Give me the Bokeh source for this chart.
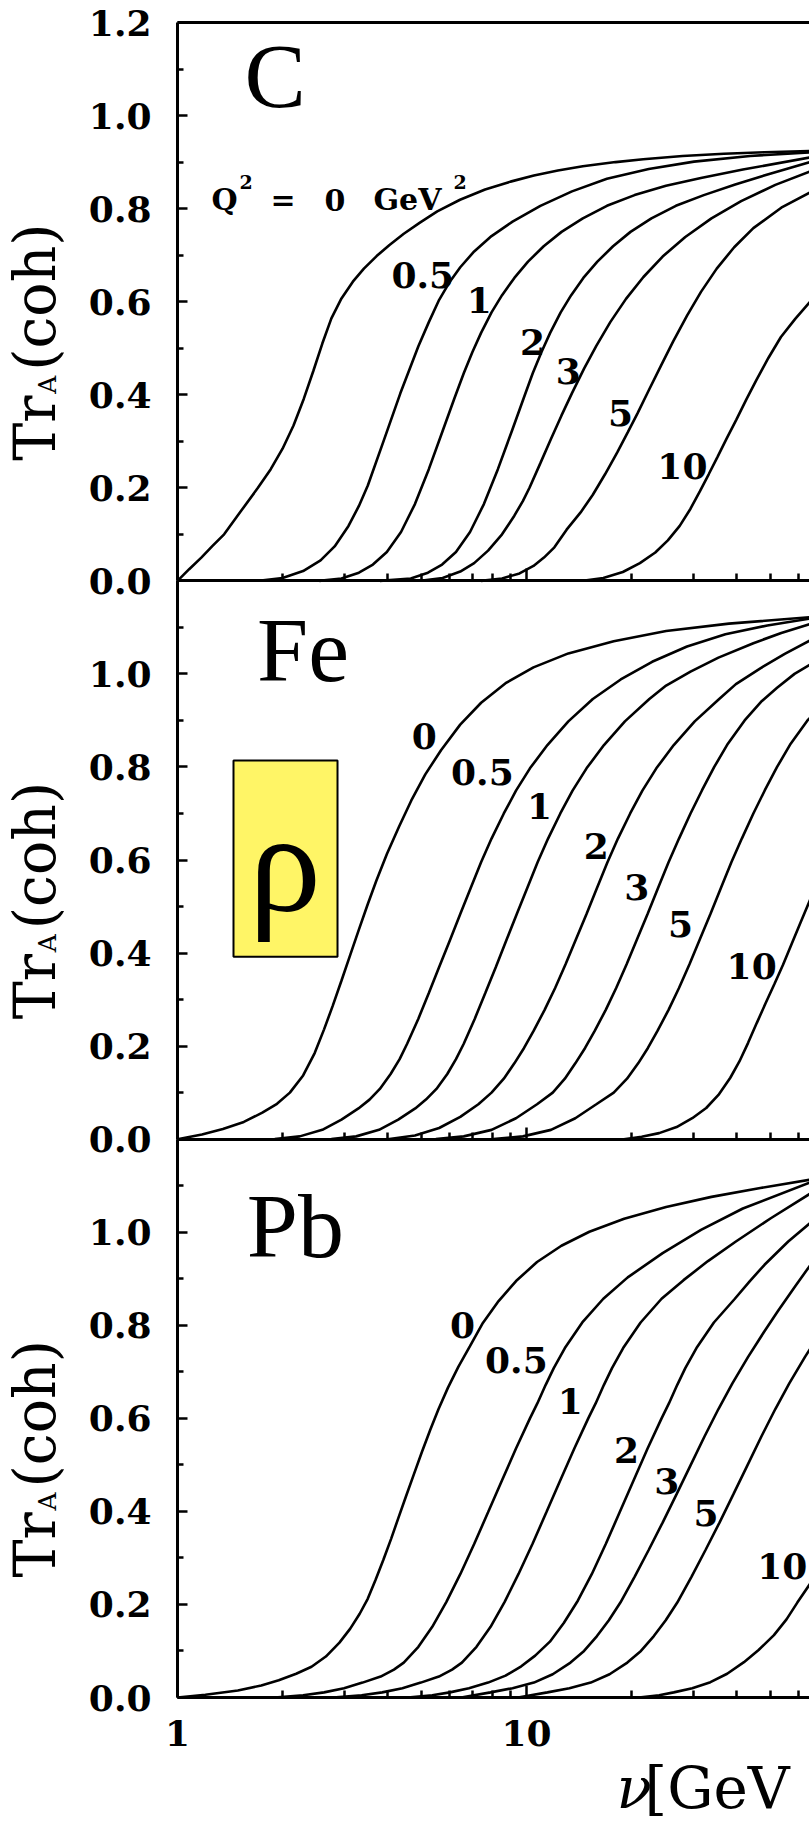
import math
from bokeh.plotting import figure
from bokeh.models import Range1d, LinearAxis, LogAxis, FixedTicker, PrintfTickFormatter, Label
from bokeh.core.properties import value
from bokeh.embed import file_html
from bokeh.resources import INLINE

# ---------------- values: nu [GeV] and Tr_A(coh) ----------------
Q2_LABELS = ["0", "0.5", "1", "2", "3", "5", "10"]
NUCLEI = ["C", "Fe", "Pb"]
X_TICKS = [1, 10]
X_MINOR = [2, 3, 4, 5, 6, 7, 8, 9, 20, 30, 40, 50, 60]
Y_TICKS = [0.0, 0.2, 0.4, 0.6, 0.8, 1.0, 1.2]
Y_MINOR = [0.1, 0.3, 0.5, 0.7, 0.9, 1.1]

# Carbon
C_Q0_NU = [1.00, 1.08, 1.17, 1.26, 1.36, 1.52, 1.70, 1.85, 2.00, 2.15, 2.30, 2.45, 2.60, 2.76, 2.95, 3.18, 3.42, 3.72, 4.05, 4.45, 4.95, 5.55, 6.45, 7.61, 9.00, 10.5, 12.3, 14.5, 18.0, 21.6, 28.0, 36.8, 48.0, 65.0]
C_Q0_TR = [0.0, 0.025, 0.050, 0.075, 0.100, 0.150, 0.200, 0.240, 0.284, 0.334, 0.391, 0.451, 0.510, 0.564, 0.607, 0.643, 0.671, 0.698, 0.722, 0.746, 0.770, 0.794, 0.819, 0.841, 0.858, 0.871, 0.882, 0.891, 0.900, 0.906, 0.913, 0.918, 0.921, 0.924]
C_Q05_NU = [1.71, 2.00, 2.29, 2.57, 2.82, 3.09, 3.31, 3.51, 3.91, 4.35, 4.90, 5.25, 5.62, 6.03, 6.46, 7.08, 7.94, 9.12, 10.96, 13.5, 17.0, 22.4, 30.2, 43.7, 65.0]
C_Q05_TR = [0.0, 0.006, 0.021, 0.044, 0.074, 0.118, 0.161, 0.205, 0.304, 0.403, 0.504, 0.556, 0.604, 0.643, 0.674, 0.708, 0.741, 0.772, 0.806, 0.837, 0.864, 0.885, 0.901, 0.913, 0.921]
C_Q1_NU = [2.55, 2.95, 3.31, 3.63, 3.98, 4.37, 4.79, 5.25, 5.75, 6.22, 6.61, 7.00, 7.41, 7.94, 8.51, 9.23, 10.1, 11.2, 12.6, 14.5, 17.0, 20.4, 25.1, 31.6, 41.7, 65.0]
C_Q1_TR = [0.0, 0.005, 0.0175, 0.035, 0.062, 0.105, 0.165, 0.240, 0.322, 0.393, 0.446, 0.492, 0.533, 0.577, 0.614, 0.651, 0.686, 0.719, 0.750, 0.779, 0.806, 0.829, 0.849, 0.866, 0.884, 0.910]
C_Q2_NU = [3.80, 4.66, 5.22, 5.73, 6.28, 6.89, 7.55, 8.28, 9.08, 9.82, 10.42, 11.04, 11.69, 12.53, 13.43, 14.55, 15.96, 17.70, 19.86, 22.80, 26.79, 32.21, 39.63, 49.89, 65.0]
C_Q2_TR = [0.0, 0.005, 0.0175, 0.035, 0.062, 0.105, 0.165, 0.240, 0.322, 0.393, 0.446, 0.492, 0.533, 0.577, 0.614, 0.651, 0.686, 0.719, 0.750, 0.779, 0.806, 0.829, 0.852, 0.875, 0.900]
C_Q3_NU = [4.97, 5.75, 6.46, 7.08, 7.76, 8.51, 9.23, 9.77, 10.2, 10.96, 11.75, 12.59, 13.49, 14.62, 15.85, 17.38, 19.28, 21.63, 24.55, 28.51, 33.88, 41.21, 51.64, 65.0]
C_Q3_TR = [0.0, 0.006, 0.020, 0.038, 0.065, 0.100, 0.140, 0.172, 0.200, 0.253, 0.305, 0.355, 0.403, 0.456, 0.505, 0.556, 0.606, 0.653, 0.697, 0.739, 0.779, 0.816, 0.851, 0.880]
C_Q5_NU = [7.41, 8.51, 9.55, 10.47, 11.22, 12.02, 13.03, 14.29, 15.49, 16.79, 18.20, 19.50, 20.80, 22.39, 24.27, 26.30, 28.84, 31.62, 35.08, 39.36, 44.67, 53.70, 65.0]
C_Q5_TR = [0.0, 0.005, 0.016, 0.032, 0.050, 0.072, 0.110, 0.147, 0.185, 0.229, 0.276, 0.319, 0.360, 0.409, 0.462, 0.514, 0.570, 0.621, 0.671, 0.717, 0.758, 0.802, 0.835]
C_Q10_NU = [14.5, 16.60, 18.88, 21.13, 23.39, 25.41, 27.48, 29.51, 31.41, 33.27, 35.24, 37.41, 39.90, 42.66, 45.60, 49.32, 53.58, 58.88, 65.0]
C_Q10_TR = [0.0, 0.006, 0.019, 0.038, 0.061, 0.087, 0.118, 0.155, 0.193, 0.229, 0.266, 0.305, 0.346, 0.390, 0.432, 0.479, 0.524, 0.563, 0.600]

# Iron
FE_Q0_NU = [1.0, 1.175, 1.349, 1.549, 1.750, 1.928, 2.099, 2.291, 2.472, 2.630, 2.786, 2.951, 3.126, 3.311, 3.508, 3.715, 3.981, 4.315, 4.677, 5.129, 5.689, 6.457, 7.413, 8.710, 10.47, 13.18, 17.78, 25.12, 38.02, 65.0]
FE_Q0_TR = [0.0, 0.010, 0.022, 0.037, 0.057, 0.076, 0.100, 0.137, 0.185, 0.236, 0.287, 0.341, 0.396, 0.451, 0.505, 0.556, 0.613, 0.672, 0.728, 0.784, 0.836, 0.891, 0.938, 0.980, 1.014, 1.044, 1.070, 1.092, 1.108, 1.122]
FE_Q05_NU = [1.90, 2.24, 2.60, 2.95, 3.30, 3.55, 3.80, 4.08, 4.33, 4.55, 4.90, 5.25, 5.62, 6.03, 6.46, 6.92, 7.41, 7.94, 8.61, 9.33, 10.23, 11.48, 13.18, 15.49, 18.62, 22.91, 28.84, 37.15, 48.98, 65.0]
FE_Q05_TR = [0.0, 0.006, 0.020, 0.042, 0.066, 0.085, 0.108, 0.140, 0.172, 0.205, 0.259, 0.314, 0.370, 0.427, 0.484, 0.540, 0.595, 0.646, 0.700, 0.749, 0.797, 0.847, 0.898, 0.946, 0.988, 1.026, 1.059, 1.085, 1.104, 1.119]
FE_Q1_NU = [2.76, 3.25, 3.78, 4.29, 4.80, 5.15, 5.52, 5.93, 6.28, 6.61, 7.11, 7.62, 8.17, 8.75, 9.38, 10.05, 10.76, 11.53, 12.50, 13.55, 14.86, 16.67, 19.14, 22.49, 25.12, 29.51, 35.48, 44.67, 53.70, 65.0]
FE_Q1_TR = [0.0, 0.006, 0.020, 0.042, 0.066, 0.085, 0.108, 0.140, 0.172, 0.205, 0.259, 0.314, 0.370, 0.427, 0.484, 0.540, 0.595, 0.646, 0.700, 0.749, 0.797, 0.847, 0.898, 0.946, 0.975, 1.005, 1.035, 1.066, 1.088, 1.107]
FE_Q2_NU = [4.00, 4.79, 5.62, 6.46, 7.28, 7.94, 8.61, 9.23, 9.84, 10.47, 11.27, 12.08, 12.94, 13.87, 14.86, 15.92, 17.06, 18.28, 19.82, 21.48, 23.55, 26.42, 30.34, 35.65, 39.81, 46.77, 54.95, 65.0]
FE_Q2_TR = [0.0, 0.008, 0.024, 0.048, 0.075, 0.100, 0.130, 0.163, 0.196, 0.232, 0.278, 0.325, 0.376, 0.430, 0.484, 0.540, 0.595, 0.646, 0.700, 0.749, 0.797, 0.847, 0.898, 0.946, 0.978, 1.012, 1.043, 1.072]
FE_Q3_NU = [5.50, 6.61, 7.94, 9.33, 10.72, 11.89, 12.88, 13.80, 14.72, 15.67, 16.87, 18.07, 19.36, 20.75, 22.23, 23.82, 25.53, 27.35, 29.51, 31.84, 34.51, 37.76, 42.17, 46.99, 52.24, 58.61, 65.0]
FE_Q3_TR = [0.0, 0.006, 0.020, 0.045, 0.075, 0.100, 0.130, 0.163, 0.196, 0.232, 0.278, 0.325, 0.376, 0.430, 0.484, 0.540, 0.595, 0.646, 0.700, 0.750, 0.800, 0.850, 0.900, 0.940, 0.970, 1.000, 1.020]
FE_Q5_NU = [8.04, 9.77, 11.75, 13.80, 15.85, 17.78, 19.41, 20.89, 22.28, 23.71, 25.53, 27.35, 29.31, 31.41, 33.65, 36.06, 38.64, 41.40, 44.67, 48.19, 52.24, 57.15, 63.83, 70.79]
FE_Q5_TR = [0.0, 0.006, 0.020, 0.045, 0.075, 0.100, 0.130, 0.163, 0.196, 0.232, 0.278, 0.325, 0.376, 0.430, 0.484, 0.540, 0.595, 0.646, 0.700, 0.750, 0.800, 0.850, 0.900, 0.935]
FE_Q10_NU = [19.01, 21.38, 23.99, 26.92, 29.85, 32.73, 35.48, 38.37, 40.74, 43.15, 45.71, 48.42, 51.29, 54.33, 57.54, 60.95, 65.0]
FE_Q10_TR = [0.0, 0.005, 0.013, 0.026, 0.045, 0.067, 0.095, 0.132, 0.167, 0.207, 0.250, 0.292, 0.333, 0.375, 0.420, 0.465, 0.515]

# Lead
PB_Q0_NU = [1.0, 1.202, 1.489, 1.738, 1.950, 2.188, 2.421, 2.661, 2.911, 3.126, 3.327, 3.508, 3.690, 3.890, 4.093, 4.295, 4.519, 4.753, 5.012, 5.297, 5.598, 5.957, 6.383, 6.887, 7.499, 8.318, 9.333, 10.72, 12.59, 15.14, 19.05, 25.12, 33.88, 46.77, 65.0]
PB_Q0_TR = [0.0, 0.006, 0.015, 0.026, 0.037, 0.051, 0.066, 0.088, 0.118, 0.148, 0.180, 0.212, 0.252, 0.296, 0.341, 0.386, 0.433, 0.479, 0.527, 0.575, 0.620, 0.666, 0.711, 0.755, 0.805, 0.852, 0.895, 0.936, 0.971, 1.001, 1.029, 1.054, 1.076, 1.095, 1.113]
PB_Q05_NU = [1.90, 2.29, 2.63, 3.00, 3.39, 3.82, 4.17, 4.45, 4.90, 5.37, 5.89, 6.46, 7.08, 7.76, 8.51, 9.33, 10.23, 10.74, 11.35, 11.97, 12.88, 14.45, 16.60, 19.50, 24.55, 31.62, 41.69, 65.0]
PB_Q05_TR = [0.0, 0.005, 0.011, 0.020, 0.032, 0.045, 0.060, 0.075, 0.109, 0.152, 0.205, 0.265, 0.330, 0.398, 0.467, 0.535, 0.600, 0.632, 0.672, 0.708, 0.751, 0.806, 0.857, 0.903, 0.955, 1.005, 1.051, 1.107]
PB_Q1_NU = [2.79, 3.37, 3.86, 4.41, 4.98, 5.61, 6.12, 6.53, 7.19, 7.89, 8.65, 9.48, 10.40, 11.40, 12.50, 13.71, 15.03, 15.78, 16.67, 17.58, 18.92, 21.23, 24.38, 28.18, 33.11, 39.81, 50.12, 65.0]
PB_Q1_TR = [0.0, 0.005, 0.011, 0.020, 0.032, 0.045, 0.060, 0.075, 0.109, 0.152, 0.205, 0.265, 0.330, 0.398, 0.467, 0.535, 0.600, 0.632, 0.672, 0.708, 0.751, 0.806, 0.857, 0.897, 0.938, 0.980, 1.030, 1.083]
PB_Q2_NU = [4.57, 5.37, 6.03, 6.84, 7.76, 8.71, 9.66, 10.59, 11.67, 12.79, 14.03, 15.38, 16.87, 18.49, 20.28, 22.23, 24.38, 25.59, 27.04, 28.51, 30.69, 34.43, 39.54, 43.65, 48.08, 56.23, 65.0]
PB_Q2_TR = [0.0, 0.005, 0.011, 0.020, 0.032, 0.047, 0.067, 0.090, 0.120, 0.160, 0.208, 0.265, 0.330, 0.398, 0.467, 0.535, 0.600, 0.632, 0.672, 0.708, 0.751, 0.806, 0.857, 0.895, 0.930, 0.980, 1.020]
PB_Q3_NU = [6.50, 7.89, 9.12, 10.50, 11.89, 13.37, 14.62, 15.92, 17.22, 18.58, 20.42, 22.39, 24.55, 26.92, 29.51, 32.36, 35.48, 38.90, 43.15, 47.86, 52.48, 58.88, 65.0]
PB_Q3_TR = [0.0, 0.011, 0.020, 0.032, 0.050, 0.075, 0.100, 0.132, 0.166, 0.204, 0.260, 0.317, 0.376, 0.437, 0.499, 0.561, 0.620, 0.675, 0.732, 0.785, 0.830, 0.884, 0.929]
PB_Q5_NU = [9.46, 11.48, 13.27, 15.28, 17.30, 19.45, 21.28, 23.17, 25.06, 27.04, 29.72, 32.58, 35.73, 39.17, 42.95, 47.10, 51.64, 56.62, 62.81, 69.66]
PB_Q5_TR = [0.0, 0.011, 0.020, 0.032, 0.050, 0.075, 0.100, 0.132, 0.166, 0.204, 0.260, 0.317, 0.376, 0.437, 0.499, 0.561, 0.620, 0.675, 0.732, 0.785]
PB_Q10_NU = [20.99, 23.99, 26.42, 29.85, 33.65, 37.58, 41.98, 46.24, 51.17, 55.59, 59.70, 65.01, 70.79]
PB_Q10_TR = [0.0, 0.005, 0.011, 0.020, 0.033, 0.051, 0.076, 0.102, 0.134, 0.168, 0.204, 0.245, 0.290]

# ---------------- page geometry (pixels) ----------------
W, H = 809, 1825
AX_LEFT_PX = 177          # x of nu = 1
DECADE_PX = 349           # pixels per decade of nu
TOP_PX, BOTTOM_PX = 22, 1697   # top of C panel, bottom of Pb panel
PANEL = 1.2
UNIT_PX = (BOTTOM_PX - TOP_PX) / (3 * PANEL)
X_LO = 10 ** (-AX_LEFT_PX / DECADE_PX)
X_HI = 10 ** ((W - AX_LEFT_PX) / DECADE_PX)
G_LO = -(H - BOTTOM_PX) / UNIT_PX
G_HI = 3 * PANEL + TOP_PX / UNIT_PX

TICK_FONT = "DejaVu Serif"
LABEL_FONT = "DejaVu Serif"
NAME_FONT = "Liberation Serif"

p = figure(width=W, height=H, x_axis_type="log", x_range=Range1d(X_LO, X_HI),
           y_range=Range1d(G_LO, G_HI), x_axis_location=None, y_axis_location=None,
           output_backend="svg", toolbar_location=None,
           min_border_left=0, min_border_right=0, min_border_top=0, min_border_bottom=0)
# each panel has its own 0..1.2 scale stacked in one frame: Pb (default), Fe, C
p.extra_y_ranges = {"fe": Range1d(G_LO - PANEL, G_HI - PANEL),
                    "c": Range1d(G_LO - 2 * PANEL, G_HI - 2 * PANEL)}
p.outline_line_color = None
p.grid.visible = False
p.background_fill_color = "white"
p.border_fill_color = "white"


def style_axis(ax, is_x, show_labels=True):
    ax.axis_line_width = 3
    ax.axis_line_color = "black"
    ax.major_tick_in = 12 if is_x else 10
    ax.major_tick_out = 0
    ax.minor_tick_in = 7 if is_x else 6
    ax.minor_tick_out = 0
    ax.major_tick_line_width = 2.5
    ax.minor_tick_line_width = 2.5
    ax.major_tick_line_color = "black"
    ax.minor_tick_line_color = "black"
    ax.major_label_text_font = TICK_FONT
    ax.major_label_text_font_style = "bold"
    ax.major_label_text_color = "black"
    ax.major_label_text_font_size = "36px" if show_labels else "0px"
    if not show_labels:
        ax.major_label_text_alpha = 0
    ax.major_label_standoff = 22 if is_x else 26


# x axes: bottom of Pb (with labels), bottoms of Fe and C, top line of C
for loc, labels, ticks in ((0.0, True, True), (PANEL, False, True), (2 * PANEL, False, True),
                           (3 * PANEL, False, False)):
    tk = FixedTicker(ticks=X_TICKS, minor_ticks=X_MINOR) if ticks else FixedTicker(ticks=[], minor_ticks=[])
    ax = LogAxis(fixed_location=loc, bounds=(1.0, X_HI), ticker=tk,
                 formatter=PrintfTickFormatter(format="%d"))
    style_axis(ax, True, show_labels=labels)
    p.add_layout(ax, "below")

# y axes, one per panel, all at nu = 1
for rname, ticks in (("default", Y_TICKS[:-1]), ("fe", Y_TICKS[:-1]), ("c", Y_TICKS)):
    ax = LinearAxis(y_range_name=rname, fixed_location=1.0, bounds=(0.0, PANEL),
                    ticker=FixedTicker(ticks=ticks, minor_ticks=Y_MINOR),
                    formatter=PrintfTickFormatter(format="%.1f"))
    style_axis(ax, False)
    p.add_layout(ax, "left")

# ---------------- curves ----------------
panels = [
    ("c", [(C_Q0_NU, C_Q0_TR), (C_Q05_NU, C_Q05_TR), (C_Q1_NU, C_Q1_TR), (C_Q2_NU, C_Q2_TR),
           (C_Q3_NU, C_Q3_TR), (C_Q5_NU, C_Q5_TR), (C_Q10_NU, C_Q10_TR)]),
    ("fe", [(FE_Q0_NU, FE_Q0_TR), (FE_Q05_NU, FE_Q05_TR), (FE_Q1_NU, FE_Q1_TR), (FE_Q2_NU, FE_Q2_TR),
            (FE_Q3_NU, FE_Q3_TR), (FE_Q5_NU, FE_Q5_TR), (FE_Q10_NU, FE_Q10_TR)]),
    ("default", [(PB_Q0_NU, PB_Q0_TR), (PB_Q05_NU, PB_Q05_TR), (PB_Q1_NU, PB_Q1_TR), (PB_Q2_NU, PB_Q2_TR),
                 (PB_Q3_NU, PB_Q3_TR), (PB_Q5_NU, PB_Q5_TR), (PB_Q10_NU, PB_Q10_TR)]),
]

# yellow rho box in the Fe panel
p.quad(left=[1.447], right=[2.874], bottom=[0.392], top=[0.814], y_range_name="fe",
       fill_color="#fff566", line_color="black", line_width=2)
p.text(x=[2.03], y=[0.595], text=["ρ"], y_range_name="fe",
       text_font=value(NAME_FONT), text_font_size=value("145px"),
       text_align="center", text_baseline="middle", text_color="black")

for rname, curves in panels:
    for nu, tr in curves:
        p.line(nu, tr, y_range_name=rname, line_color="black", line_width=2.6)

# curve labels, right end just left of each curve
label_pos = {
    "c": ([6.2, 7.95, 11.3, 14.3, 20.2, 33.0], [0.657, 0.604, 0.514, 0.452, 0.361, 0.246], Q2_LABELS[1:]),
    "fe": ([5.53, 9.19, 11.83, 17.2, 22.5, 30.0, 52.1], [0.867, 0.79, 0.716, 0.631, 0.542, 0.463, 0.373], Q2_LABELS),
    "default": ([7.12, 11.5, 14.5, 21.0, 27.4, 35.5, 63.8], [0.80, 0.725, 0.638, 0.533, 0.465, 0.397, 0.282], Q2_LABELS),
}
for rname, (xs, ys, txt) in label_pos.items():
    p.text(x=xs, y=ys, text=txt, y_range_name=rname,
           text_font=value(TICK_FONT), text_font_style="bold", text_font_size=value("36px"),
           text_align="right", text_baseline="middle", text_color="black")

# "Q^2 = 0 GeV^2" in the C panel
p.text(x=[1.251, 1.847, 2.637, 3.644], y=[0.819] * 4, text=["Q", "=", "0", "GeV"], y_range_name="c",
       text_font=value(TICK_FONT), text_font_style="bold", text_font_size=value("30px"),
       text_align="left", text_baseline="middle", text_color="black")
p.text(x=[1.505, 6.177], y=[0.858] * 2, text=["2", "2"], y_range_name="c",
       text_font=value(TICK_FONT), text_font_style="bold", text_font_size=value("19px"),
       text_align="left", text_baseline="middle", text_color="black")

# nucleus names
for rname, xx, yy, name in (("c", 1.556, 1.084, NUCLEI[0]), ("fe", 1.69, 1.052, NUCLEI[1]),
                            ("default", 1.58, 1.013, NUCLEI[2])):
    p.text(x=[xx], y=[yy], text=[name], y_range_name=rname,
           text_font=value(NAME_FONT), text_font_size=value("92px"),
           text_align="left", text_baseline="middle", text_color="black")

# rotated y titles Tr_A(coh), one per panel (screen px from the bottom-left corner)
for k in range(3):
    base = (H - BOTTOM_PX) + k * PANEL * UNIT_PX
    for txt, xs, dy, size in (("Tr", 34, 120, "57px"), ("A", 47, 187, "25px"), ("(coh)", 34, 210, "57px")):
        p.add_layout(Label(x=xs, y=base + dy, x_units="screen", y_units="screen", text=txt,
                           angle=math.pi / 2, text_font=LABEL_FONT, text_font_size=size,
                           text_align="left", text_baseline="middle", text_color="black"))

# x title, cut at the right edge like the original
p.add_layout(Label(x=616, y=38, x_units="screen", y_units="screen", text="ν",
                   text_font=LABEL_FONT, text_font_style="italic", text_font_size="58px",
                   text_align="left", text_baseline="middle", text_color="black"))
p.add_layout(Label(x=644, y=38, x_units="screen", y_units="screen", text="[GeV",
                   text_font=LABEL_FONT, text_font_size="58px",
                   text_align="left", text_baseline="middle", text_color="black"))

open("out.html", "w").write(file_html(p, INLINE))
